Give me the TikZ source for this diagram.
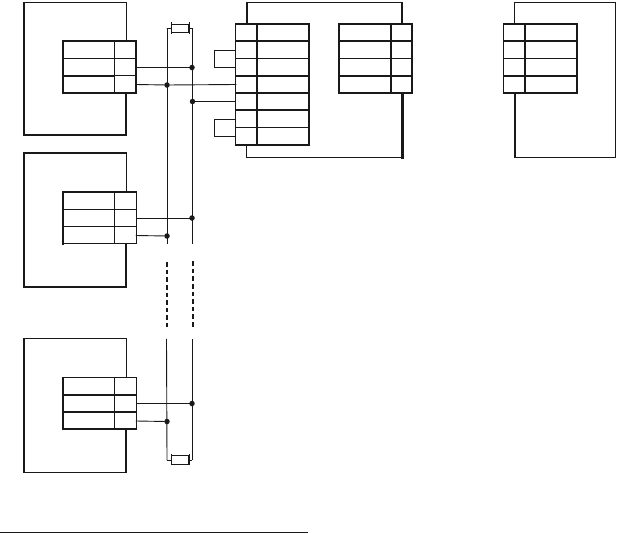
\documentclass[tikz,border=0pt]{standalone}
\tikzset{
 thin line/.style={line width=0.9pt,color=black!90,line cap=rect},
 thick line/.style={line width=1.6pt,color=black!90,line cap=rect},
 heavy line/.style={line width=2.4pt,color=black!90},
 junction/.style={circle,fill=black!90,inner sep=0pt,minimum size=5.5pt},
 fusebox/.style={draw=black!90,line width=0.9pt,fill=white,minimum width=17pt,minimum height=8.5pt,inner sep=0pt},
 anchorpt/.style={inner sep=0pt,minimum size=0pt},
 busdash/.style={line width=2pt,color=black!90,dash pattern=on 4.5pt off 3.1pt}
}
\begin{document}
\begin{tikzpicture}[x=1pt,y=-1pt]
\useasboundingbox (0,0) rectangle (618,533);
% ---- left units
\draw[thin line] (126,2.5) -- (24,2.5);
\draw[thick line] (24,2.5) -- (24,135) -- (126,135) -- (126,93);
\draw[thin line] (126,2.5) -- (126,41);
\draw[thick line] (63,41) rectangle (136,93);
\draw[thin line] (114.5,41) -- (114.5,93);
\draw[thin line] (63,58.5) -- (136,58.5);
\draw[thick line] (63,76) -- (114.5,76);
\draw[thin line] (114.5,75.5) -- (136,75.5);
\draw[thin line] (136,41) -- (136,93);

\draw[thick line] (126,153) -- (24,153) -- (24,287) -- (126,287) -- (126,244);
\draw[thin line] (126,153) -- (126,192);
\draw[thick line] (63,244) -- (63,192) -- (136,192);
\draw[thin line] (136,192) -- (136,243.5) -- (63,243.5);
\draw[thin line] (114.5,192) -- (114.5,243.5);
\draw[thin line] (63,209) -- (136,209);
\draw[thin line] (63,226.5) -- (136,226.5);

\draw[thin line] (126,338.5) -- (24,338.5);
\draw[thick line] (24,338.5) -- (24,472);
\draw[thin line] (24,472) -- (126,472);
\draw[thick line] (126,472) -- (126,429);
\draw[thin line] (126,338.5) -- (126,377.5);
\draw[thin line] (63,377.5) -- (136,377.5) -- (136,429);
\draw[thick line] (63,377.5) -- (63,429) -- (136,429);
\draw[thin line] (114.5,377.5) -- (114.5,429);
\draw[thick line] (63,395) -- (136,395);
\draw[thick line] (63,412) -- (136,412);

% ---- middle block
\draw[thick line] (247,24) -- (247,2.5);
\draw[thin line] (247,2.5) -- (402,2.5);
\draw[thick line] (402,2.5) -- (402,24);
\draw[thin line] (246.5,145) -- (246.5,157) -- (402,157);
\draw[heavy line] (402.5,93) -- (402.5,158.5);
\draw[thick line] (235.5,24) rectangle (309,145);
\draw[thick line] (257,24) -- (257,145);
\foreach \yy in {41,76,93,110}{\draw[thick line] (235.5,\yy) -- (309,\yy);}
\foreach \yy in {58.5,127.5}{\draw[thin line] (235.5,\yy) -- (309,\yy);}
\draw[thick line] (339,24) rectangle (412,93);
\draw[thick line] (391,24) -- (391,93);
\foreach \yy in {41,76}{\draw[thick line] (339,\yy) -- (412,\yy);}
\draw[thin line] (339,58.5) -- (412,58.5);
% jumpers
\coordinate (ja) at (236,50.5); \coordinate (jb) at (236,67.5);
\coordinate (jc) at (236,119.5); \coordinate (jd) at (236,136.5);
\draw[thin line] (ja) -- (214.5,50.5) -- (214.5,67.5) -- (jb);
\draw[thin line] (jc) -- (214.5,119.5) -- (214.5,136.5) -- (jd);

% ---- right unit
\draw[thin line] (514.5,24) -- (514.5,2.5) -- (615,2.5) -- (615,157.5);
\draw[thick line] (515,93) -- (515,157.5) -- (615,157.5);
\draw[thick line] (503.5,24) rectangle (577,93);
\draw[thick line] (525,24) -- (525,93);
\foreach \yy in {41,76}{\draw[thick line] (503.5,\yy) -- (577,\yy);}
\draw[thin line] (503.5,58.5) -- (577,58.5);

% ---- bus and junctions
\node[junction] (a1) at (192,67.5) {};
\node[junction] (b1) at (167,85) {};
\node[junction] (a2) at (192.5,101.5) {};
\node[junction] (a3) at (192,218) {};
\node[junction] (b3) at (167,236) {};
\node[junction] (a4) at (192,403.5) {};
\node[junction] (b4) at (167,421.5) {};
\node[anchorpt] (t1) at (167,28.5) {};
\node[anchorpt] (t2) at (192,28.5) {};
\node[anchorpt] (m1) at (167,244) {};
\node[anchorpt] (m2) at (192,244) {};
\node[anchorpt] (d1) at (167,262) {};
\node[anchorpt] (d2) at (193,261) {};
\node[anchorpt] (e1) at (167,327) {};
\node[anchorpt] (e2) at (193,327) {};
\node[anchorpt] (n1) at (166.5,339) {};
\node[anchorpt] (n2) at (192,339) {};
\node[anchorpt] (u1) at (167,460) {};
\node[anchorpt] (u2) at (192,460) {};
\node[fusebox] (f1) at (180,28.3) {};
\node[fusebox] (f2) at (180,460) {};
\node[anchorpt] (o1) at (136,67.5) {};
\node[anchorpt] (o2) at (136,84.5) {};
\node[anchorpt] (o3) at (136,218) {};
\node[anchorpt] (o4) at (136,235.5) {};
\node[anchorpt] (o5) at (136,403.5) {};
\node[anchorpt] (o6) at (136,421) {};
\node[anchorpt] (p1) at (236,84.5) {};
\node[anchorpt] (p2) at (236,101.5) {};

\draw[thin line] (t1) -- (m1);
\draw[thin line] (t2) -- (m2);
\draw[thin line] (n1) -- (u1);
\draw[thin line] (n2) -- (u2);
\draw[busdash] (d1) -- (e1);
\draw[busdash] (d2) -- (e2);
\draw[thin line] (t1) -- (f1);
\draw[thin line] (t2) -- (f1);
\draw[thin line] (u1) -- (f2);
\draw[thin line] (u2) -- (f2);
\node[fusebox] at (f1) {};
\node[fusebox] at (f2) {};
\foreach \n in {f1,f2}{
 \draw[thin line] (\n.north west) ++(0,-1) -- ++(0,10.5);
 \draw[thin line] (\n.north east) ++(0,-1) -- ++(0,10.5);
}
\draw[thin line] (o1) -- (a1);
\draw[thin line] (o2) -- (b1);
\draw[thin line] (b1) -- (p1);
\draw[thin line] (a2) -- (p2);
\draw[thin line] (o3) -- (a3);
\draw[thin line] (o4) -- (b3);
\draw[thin line] (o5) -- (a4);
\draw[thin line] (o6) -- (b4);

% ---- bottom rule
\node[anchorpt] (r1) at (0,532) {};
\node[anchorpt] (r2) at (308,532) {};
\draw[line width=0.9pt,color=black!90] (r1) -- (r2);
\end{tikzpicture}
\end{document}
